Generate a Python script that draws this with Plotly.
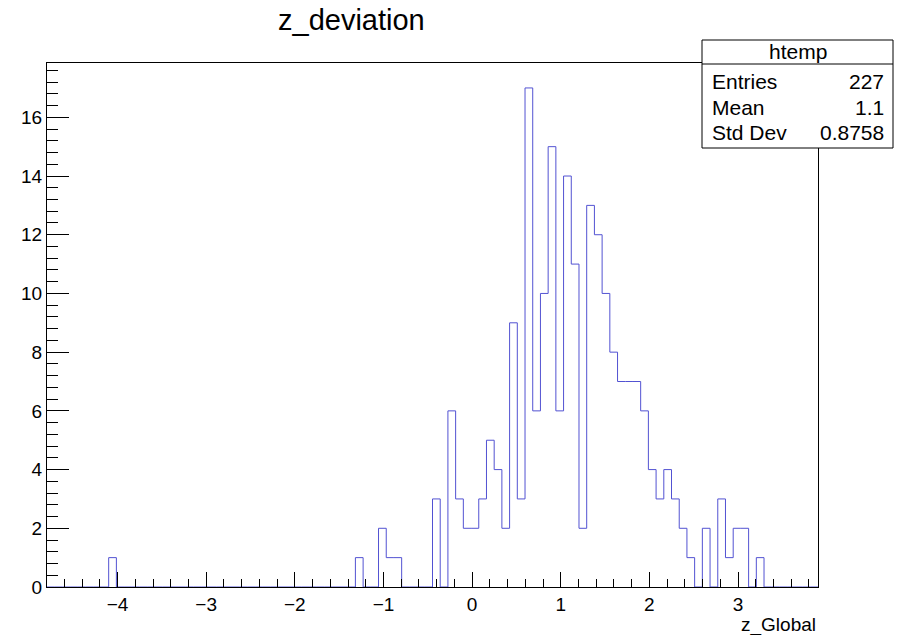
import plotly.graph_objects as go

# ---- data ----
x_min = -4.796
x_max = 3.902
n_bins = 100
counts = [0]*100
nonzero_bins = [8, 40, 43, 44, 45]
nonzero_vals = [1, 1, 2, 1, 1]
central_start = 50
central_vals = [3, 0, 6, 3, 2, 2, 3, 5, 4, 2,
                9, 3, 17, 6, 10, 15, 6, 14, 11, 2,
                13, 12, 10, 8, 7, 7, 7, 6, 4, 3,
                4, 3, 2, 1, 0, 2, 0, 3, 1, 2,
                2, 0, 1]
for b, v in zip(nonzero_bins, nonzero_vals):
    counts[b] = v
for i, v in enumerate(central_vals):
    counts[central_start + i] = v

stats_labels = ["Entries", "Mean", "Std Dev"]
stats_values = ["227", "1.1", "0.8758"]
title_text = "z_deviation"
x_title = "z_Global"
hist_name = "htemp"

width = (x_max - x_min) / n_bins
edges = [x_min + k * width for k in range(n_bins + 1)]
xs = [x_min] + edges
ys = [0] + counts + [0]

W, H = 908, 635
L, R, T, B = 47, 90, 63, 48
pw, ph = W - L - R, H - T - B

def px(x):
    return (x - L) / pw

def py(y):
    return (H - B - y) / ph

FONT = "Liberation Sans, Arial, Helvetica, sans-serif"

fig = go.Figure()
fig.add_trace(go.Scatter(x=xs, y=ys, mode="lines", line_shape="hv",
                         line=dict(color="#5252d2", width=1), hoverinfo="skip",
                         showlegend=False))

fig.update_layout(
    width=W, height=H,
    margin=dict(l=L, r=R, t=T, b=B),
    paper_bgcolor="white", plot_bgcolor="white",
    font=dict(family=FONT, color="black"),
    showlegend=False,
)
fig.update_xaxes(range=[x_min, x_max], showgrid=False, zeroline=False,
                 showline=True, linecolor="black", linewidth=1, mirror=True,
                 ticks="inside", ticklen=15, tickwidth=1, tickcolor="black",
                 dtick=1, tick0=0, tickfont=dict(size=19, family=FONT),
                 minor=dict(ticks="inside", ticklen=8, dtick=0.2, tick0=0,
                            tickcolor="black", showgrid=False))
fig.update_yaxes(range=[0, 17.85], showgrid=False, zeroline=False,
                 showline=True, linecolor="black", linewidth=1, mirror=True,
                 ticks="inside", ticklen=22, tickwidth=1, tickcolor="black",
                 dtick=2, tick0=0, tickfont=dict(size=19, family=FONT),
                 minor=dict(ticks="inside", ticklen=11, dtick=0.4, tick0=0,
                            tickcolor="black", showgrid=False))

annotations = []
annotations.append(dict(text=title_text, x=px(351.5), y=py(20),
                        xref="paper", yref="paper", showarrow=False,
                        xanchor="center", yanchor="middle",
                        font=dict(size=29, family=FONT)))
annotations.append(dict(text=x_title, x=1, y=py(625), xref="paper", yref="paper",
                        showarrow=False, xanchor="right", yanchor="middle",
                        font=dict(size=19, family=FONT)))

# stats box
bx0, bx1, by0, by1, hy = 702, 893, 40, 148, 64
shapes = [
    dict(type="rect", xref="paper", yref="paper", x0=px(bx0), x1=px(bx1),
         y0=py(by1), y1=py(by0), line=dict(color="black", width=1),
         fillcolor="white", layer="above"),
    dict(type="line", xref="paper", yref="paper", x0=px(bx0), x1=px(bx1),
         y0=py(hy), y1=py(hy), line=dict(color="black", width=1), layer="above"),
]
annotations.append(dict(text=hist_name, x=px((bx0 + bx1) / 2), y=py(52),
                        xref="paper", yref="paper", showarrow=False,
                        xanchor="center", yanchor="middle",
                        font=dict(size=21, family=FONT)))
row_y = [81, 107, 132]
for lab, val, ry in zip(stats_labels, stats_values, row_y):
    annotations.append(dict(text=lab, x=px(710), y=py(ry), xref="paper", yref="paper",
                            showarrow=False, xanchor="left", yanchor="middle",
                            font=dict(size=21, family=FONT)))
    annotations.append(dict(text=val, x=px(886), y=py(ry), xref="paper", yref="paper",
                            showarrow=False, xanchor="right", yanchor="middle",
                            font=dict(size=21, family=FONT)))

fig.update_layout(annotations=annotations, shapes=shapes)
fig.write_html("out.html")
